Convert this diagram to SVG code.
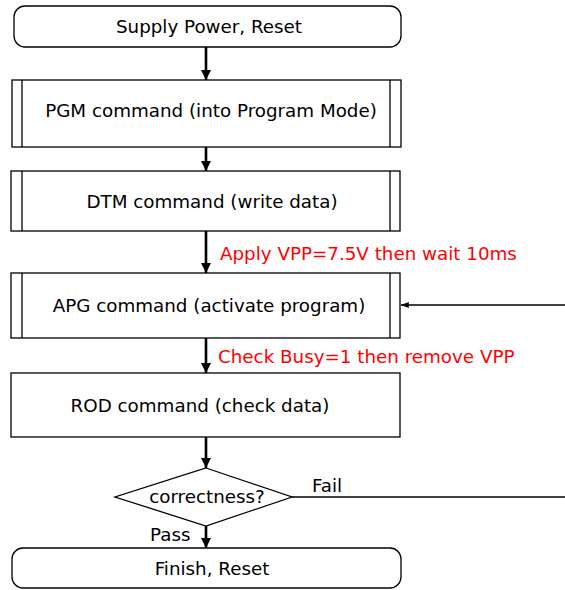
<svg xmlns="http://www.w3.org/2000/svg" width="565" height="590" viewBox="0 0 565 590">
<defs>
<style>
.shape{fill:#fff;stroke:#000;stroke-width:1.3}
.t{font-family:"DejaVu Sans",Verdana,sans-serif;font-size:18.3px;fill:#000;text-anchor:middle}
.red{font-family:"DejaVu Sans",Verdana,sans-serif;font-size:18.3px;fill:#ff0000}
.lbl{font-family:"DejaVu Sans",Verdana,sans-serif;font-size:18.3px;fill:#000}
.flow{stroke:#000;stroke-width:2.6;fill:none}
.thin{stroke:#000;stroke-width:1.3;fill:none}
</style>
<marker id="ah" viewBox="0 0 10 10" refX="10" refY="5" markerWidth="4" markerHeight="4" orient="auto" markerUnits="strokeWidth">
<path d="M0,0 L10,5 L0,10 z" fill="#000"/>
</marker>
<marker id="ahs" viewBox="0 0 10 10" refX="10" refY="5" markerWidth="6" markerHeight="6" orient="auto" markerUnits="strokeWidth">
<path d="M0,1 L10,5 L0,9 z" fill="#000"/>
</marker>
</defs>
<rect width="565" height="590" fill="#fff"/>
<g id="connectors">
<line class="flow" x1="206" y1="47" x2="206" y2="80" marker-end="url(#ah)"/>
<line class="flow" x1="206" y1="147" x2="206" y2="171" marker-end="url(#ah)"/>
<line class="flow" x1="206" y1="231" x2="206" y2="273" marker-end="url(#ah)"/>
<line class="flow" x1="206" y1="338" x2="206" y2="373" marker-end="url(#ah)"/>
<line class="flow" x1="206" y1="437" x2="206" y2="468" marker-end="url(#ah)"/>
<line class="flow" x1="206" y1="526" x2="206" y2="548" marker-end="url(#ah)"/>
<line class="thin" x1="292" y1="497" x2="565" y2="497"/>
<line class="thin" x1="565" y1="305" x2="401" y2="305" marker-end="url(#ahs)"/>
<text class="red" x="220" y="260">Apply VPP=7.5V then wait 10ms</text>
<text class="red" x="218" y="363">Check Busy=1 then remove VPP</text>
<text class="lbl" x="312" y="492">Fail</text>
<text class="lbl" x="150" y="541">Pass</text>
</g>
<g id="start">
<rect class="shape" x="14" y="6" width="387" height="41" rx="11" ry="11"/>
<text class="t" x="209" y="33">Supply Power, Reset</text>
</g>
<g id="pgm">
<rect class="shape" x="12" y="80" width="389" height="67"/>
<line class="thin" x1="22" y1="80" x2="22" y2="147"/>
<line class="thin" x1="390" y1="80" x2="390" y2="147"/>
<text class="t" x="211" y="117">PGM command (into Program Mode)</text>
</g>
<g id="dtm">
<rect class="shape" x="11" y="171" width="389" height="60"/>
<line class="thin" x1="22" y1="171" x2="22" y2="231"/>
<line class="thin" x1="390" y1="171" x2="390" y2="231"/>
<text class="t" x="212" y="208">DTM command (write data)</text>
</g>
<g id="apg">
<rect class="shape" x="11" y="273" width="389" height="65"/>
<line class="thin" x1="22" y1="273" x2="22" y2="338"/>
<line class="thin" x1="390" y1="273" x2="390" y2="338"/>
<text class="t" x="209" y="312">APG command (activate program)</text>
</g>
<g id="rod">
<rect class="shape" x="11" y="373" width="389" height="64"/>
<text class="t" x="200" y="412">ROD command (check data)</text>
</g>
<g id="check">
<polygon class="shape" points="206,468 292,497 206,526 115,497"/>
<text class="t" x="207" y="503">correctness?</text>
</g>
<g id="finish">
<rect class="shape" x="12" y="548" width="389" height="40" rx="11" ry="11"/>
<text class="t" x="212" y="575">Finish, Reset</text>
</g>
</svg>
